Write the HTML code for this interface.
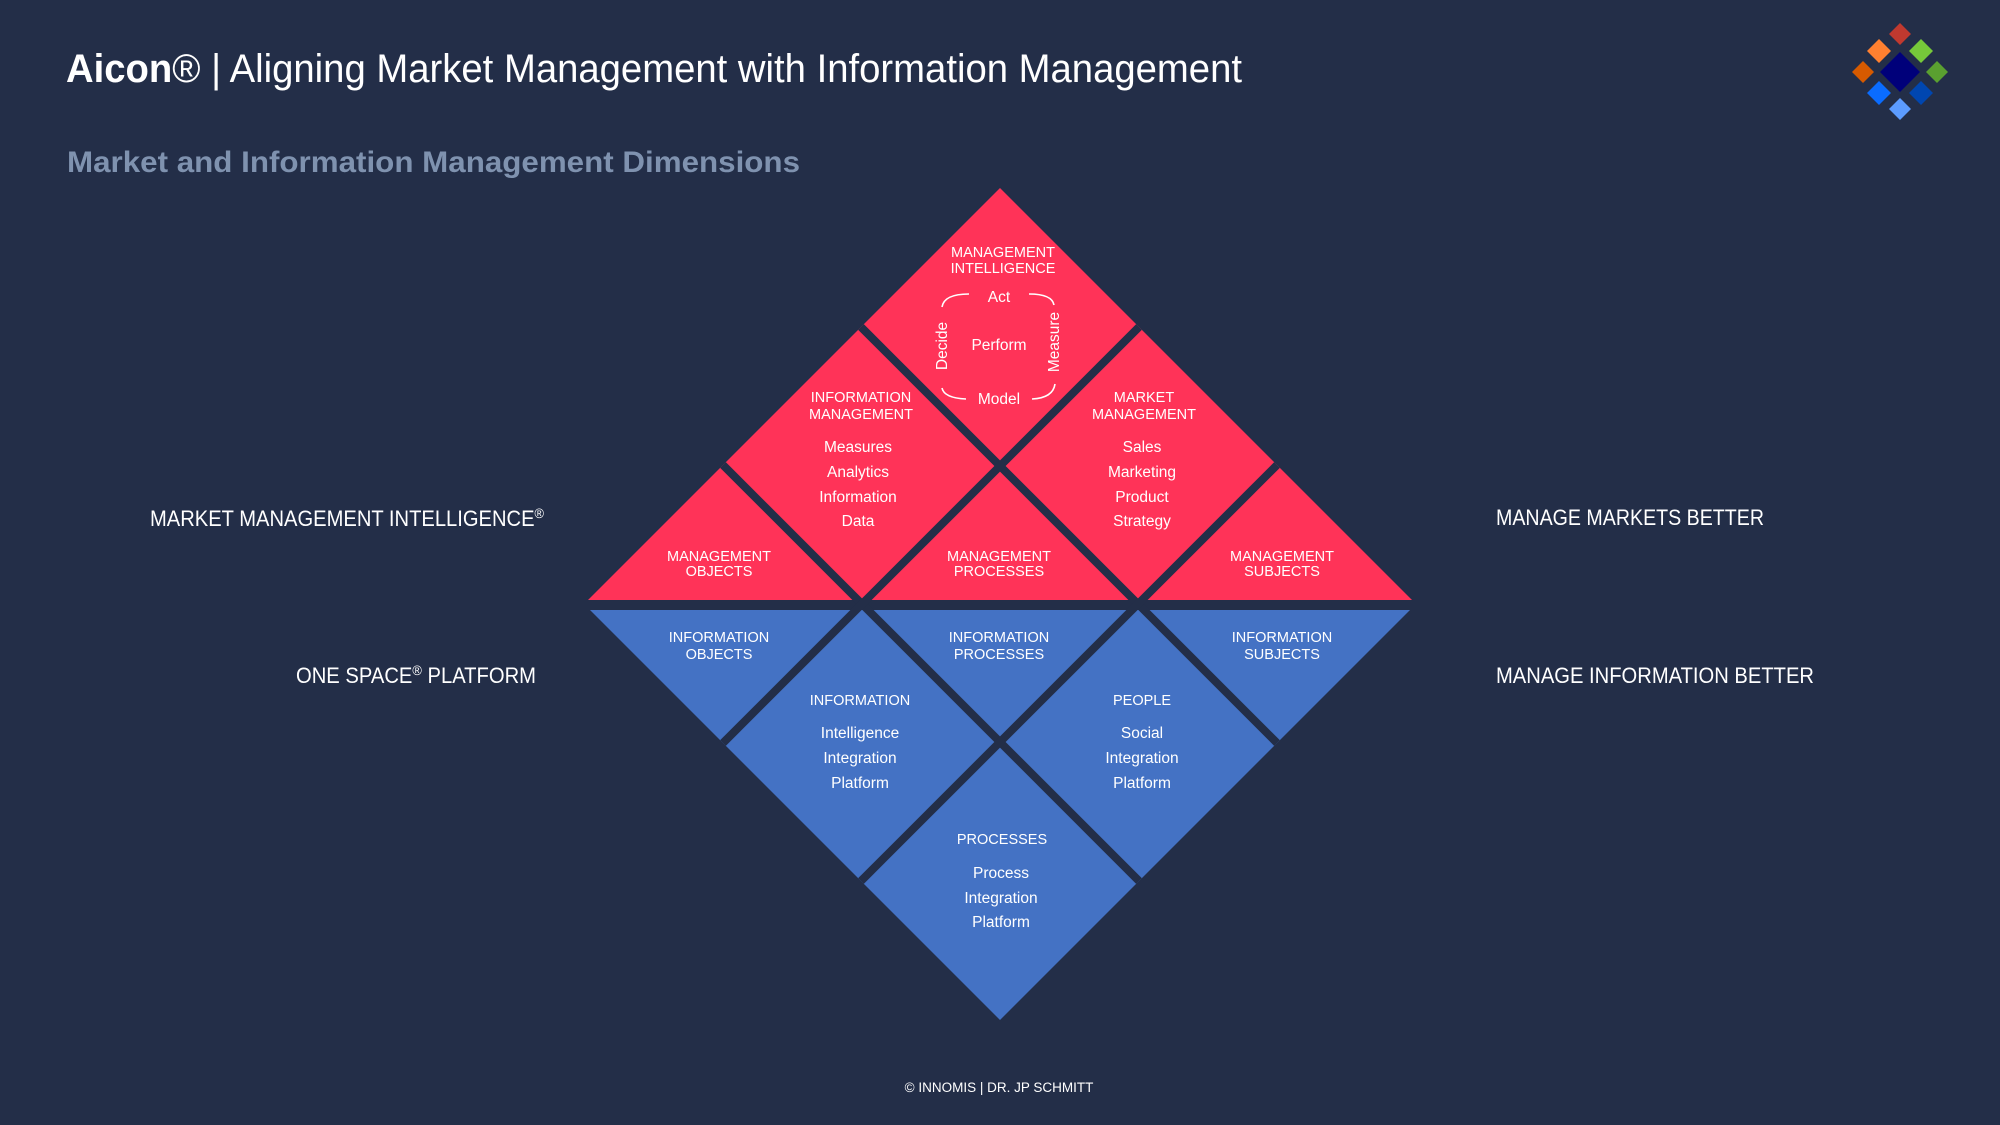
<!DOCTYPE html>
<html><head><meta charset="utf-8"><style>
html,body{margin:0;padding:0;background:#232e48;}
svg{display:block;font-family:"Liberation Sans",sans-serif;}
</style></head><body>
<svg width="2000" height="1125" viewBox="0 0 2000 1125" xmlns="http://www.w3.org/2000/svg">
<rect width="2000" height="1125" fill="#232e48"/>
<text x="66" y="82" font-size="40" fill="#fff" textLength="1176" lengthAdjust="spacingAndGlyphs"><tspan font-weight="bold">Aicon</tspan>® | Aligning Market Management with Information Management</text>
<text x="67" y="172" font-size="30" font-weight="bold" fill="#7f92af" textLength="733" lengthAdjust="spacingAndGlyphs">Market and Information Management Dimensions</text>

<!-- logo -->
<g>
<polygon points="1900,52 1920,72 1900,92 1880,72" fill="#00007a"/>
<polygon points="1900,23 1911,34 1900,45 1889,34" fill="#c0392f"/>
<polygon points="1879,39 1891,51 1879,63 1867,51" fill="#ff8030"/>
<polygon points="1921,39 1933,51 1921,63 1909,51" fill="#76c83a"/>
<polygon points="1863,61 1874,72 1863,83 1852,72" fill="#d65a00"/>
<polygon points="1937,61 1948,72 1937,83 1926,72" fill="#5aa030"/>
<polygon points="1879,81 1891,93 1879,105 1867,93" fill="#0a6cff"/>
<polygon points="1921,81 1933,93 1921,105 1909,93" fill="#0046b0"/>
<polygon points="1900,98 1911,109 1900,120 1889,109" fill="#5c9cff"/>
</g>

<!-- diamond: center (1000,604), half 416 -->
<polygon points="584,604 1000,188 1416,604" fill="#ff3358"/>
<polygon points="584,604 1000,1020 1416,604" fill="#4472c4"/>
<rect x="570" y="600" width="860" height="10" fill="#232e48"/>
<g stroke="#232e48" stroke-width="8">
<line x1="723" y1="465" x2="1139" y2="881"/>
<line x1="861" y1="327" x2="1277" y2="743"/>
<line x1="1139" y1="327" x2="723" y2="743"/>
<line x1="1277" y1="465" x2="861" y2="881"/>
</g>

<!-- cycle arcs -->
<g fill="none" stroke="#fff" stroke-width="1.6">
<path d="M942,307 Q944,294 969,294"/>
<path d="M1029,294 Q1052,294 1054,305"/>
<path d="M942,388 Q944,398 966,399"/>
<path d="M1032,399 Q1053,398 1055,384"/>
</g>

<g fill="#fff" font-size="14.5" text-anchor="middle">
<text x="1003" y="257">MANAGEMENT</text>
<text x="1003" y="273">INTELLIGENCE</text>
<text x="999" y="302" font-size="15.5">Act</text>
<text x="999" y="350" font-size="15.5">Perform</text>
<text x="999" y="404" font-size="15.5">Model</text>
<text transform="translate(947,346) rotate(-90)" font-size="15.5">Decide</text>
<text transform="translate(1059,342) rotate(-90)" font-size="15.5">Measure</text>

<text x="861" y="402">INFORMATION</text>
<text x="861" y="419">MANAGEMENT</text>
<g font-size="15.5">
<text x="858" y="452">Measures</text>
<text x="858" y="477">Analytics</text>
<text x="858" y="502">Information</text>
<text x="858" y="526">Data</text>
</g>
<text x="1144" y="402">MARKET</text>
<text x="1144" y="419">MANAGEMENT</text>
<g font-size="15.5">
<text x="1142" y="452">Sales</text>
<text x="1142" y="477">Marketing</text>
<text x="1142" y="502">Product</text>
<text x="1142" y="526">Strategy</text>
</g>
<text x="719" y="561">MANAGEMENT</text>
<text x="719" y="576">OBJECTS</text>
<text x="999" y="561">MANAGEMENT</text>
<text x="999" y="576">PROCESSES</text>
<text x="1282" y="561">MANAGEMENT</text>
<text x="1282" y="576">SUBJECTS</text>

<text x="719" y="642">INFORMATION</text>
<text x="719" y="659">OBJECTS</text>
<text x="999" y="642">INFORMATION</text>
<text x="999" y="659">PROCESSES</text>
<text x="1282" y="642">INFORMATION</text>
<text x="1282" y="659">SUBJECTS</text>

<text x="860" y="705">INFORMATION</text>
<g font-size="15.5">
<text x="860" y="738">Intelligence</text>
<text x="860" y="763">Integration</text>
<text x="860" y="788">Platform</text>
</g>
<text x="1142" y="705">PEOPLE</text>
<g font-size="15.5">
<text x="1142" y="738">Social</text>
<text x="1142" y="763">Integration</text>
<text x="1142" y="788">Platform</text>
</g>
<text x="1002" y="844">PROCESSES</text>
<g font-size="15.5">
<text x="1001" y="878">Process</text>
<text x="1001" y="903">Integration</text>
<text x="1001" y="927">Platform</text>
</g>
</g>

<g fill="#fff" font-size="22">
<text x="150" y="526" textLength="394" lengthAdjust="spacingAndGlyphs">MARKET MANAGEMENT INTELLIGENCE<tspan font-size="14" dy="-8">®</tspan></text>
<text x="296" y="683" textLength="240" lengthAdjust="spacingAndGlyphs">ONE SPACE<tspan font-size="14" dy="-8">®</tspan><tspan dy="8"> PLATFORM</tspan></text>
<text x="1496" y="525" textLength="268" lengthAdjust="spacingAndGlyphs">MANAGE MARKETS BETTER</text>
<text x="1496" y="683" textLength="318" lengthAdjust="spacingAndGlyphs">MANAGE INFORMATION BETTER</text>
</g>
<text x="999" y="1092" fill="#fff" font-size="13.5" text-anchor="middle">© INNOMIS | DR. JP SCHMITT</text>
</svg>
</body></html>
